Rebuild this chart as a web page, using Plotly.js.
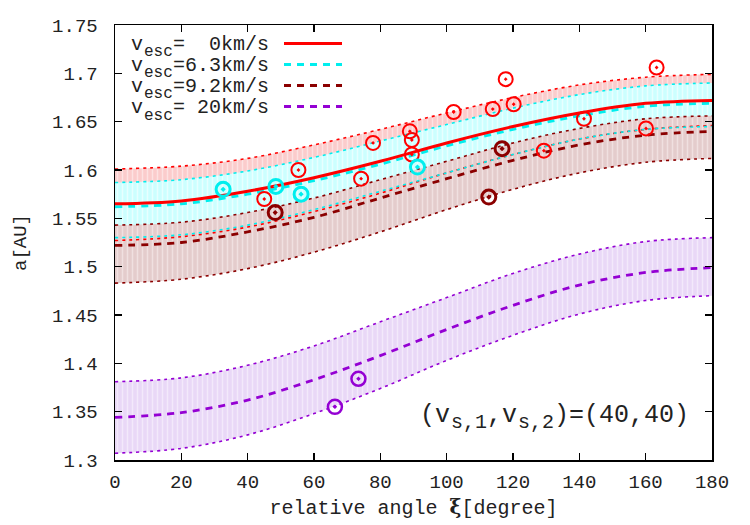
<!DOCTYPE html>
<html>
<head>
<meta charset="utf-8">
<script src="https://cdn.plot.ly/plotly-3.0.1.min.js"></script>
<style>
  html, body { margin: 0; padding: 0; background: #fff; }
  #chart { width: 750px; height: 525px; }
</style>
</head>
<body>
<div id="chart"></div>
<script>
// Relative angle samples (degrees)
const xi = [0, 20, 40, 60, 80, 100, 120, 140, 160, 180];

// v_esc = 0 km/s : centre curve and band edges (AU)
const redMid = [1.565, 1.568, 1.578, 1.592, 1.609, 1.628, 1.645, 1.659, 1.669, 1.672];
const redHi  = [1.601, 1.604, 1.612, 1.626, 1.642, 1.659, 1.675, 1.688, 1.696, 1.699];
const redLo  = [1.527, 1.531, 1.541, 1.557, 1.576, 1.597, 1.616, 1.632, 1.642, 1.646];

// v_esc = 6.3 km/s
const cyanMid = [1.562, 1.565, 1.575, 1.589, 1.606, 1.625, 1.642, 1.656, 1.666, 1.669];
const cyanHi  = [1.587, 1.590, 1.599, 1.613, 1.630, 1.647, 1.664, 1.678, 1.687, 1.690];
const cyanLo  = [1.530, 1.533, 1.543, 1.559, 1.578, 1.597, 1.616, 1.632, 1.642, 1.645];

// v_esc = 9.2 km/s
const dredMid = [1.522, 1.525, 1.536, 1.551, 1.571, 1.591, 1.610, 1.626, 1.636, 1.640];
const dredHi  = [1.543, 1.546, 1.556, 1.571, 1.590, 1.609, 1.628, 1.643, 1.653, 1.656];
const dredLo  = [1.483, 1.487, 1.498, 1.515, 1.536, 1.559, 1.580, 1.597, 1.608, 1.612];

// v_esc = 20 km/s
const purpMid = [1.344, 1.349, 1.362, 1.383, 1.408, 1.435, 1.460, 1.481, 1.494, 1.499];
const purpHi  = [1.381, 1.385, 1.398, 1.418, 1.443, 1.468, 1.493, 1.513, 1.526, 1.530];
const purpLo  = [1.307, 1.312, 1.326, 1.348, 1.374, 1.403, 1.429, 1.451, 1.465, 1.470];

// Observed objects for each escape velocity
const redPtX  = [45.0, 55.3, 74.2, 77.8, 88.9, 89.5, 89.5, 102.1, 113.9, 117.8, 120.2, 129.3, 141.4, 160.1, 163.3];
const redPtY  = [1.570, 1.600, 1.591, 1.628, 1.640, 1.631, 1.616, 1.660, 1.663, 1.694, 1.668, 1.620, 1.653, 1.643, 1.706];
const cyanPtX = [32.6, 48.5, 56.1, 91.2];
const cyanPtY = [1.580, 1.583, 1.575, 1.603];
const dredPtX = [48.3, 112.7, 116.7];
const dredPtY = [1.556, 1.572, 1.622];
const purpPtX = [66.3, 73.4];
const purpPtY = [1.355, 1.384];

// Key labels and tick labels
const vescLabels = ['=\u00a0\u00a00km/s', '=6.3km/s', '=9.2km/s', '=\u00a020km/s'];
const xTickVals = [0, 20, 40, 60, 80, 100, 120, 140, 160, 180];
const xTickText = ['0', '20', '40', '60', '80', '100', '120', '140', '160', '180'];
const yTickVals = [1.3, 1.35, 1.4, 1.45, 1.5, 1.55, 1.6, 1.65, 1.7, 1.75];
const yTickText = ['1.3', '1.35', '1.4', '1.45', '1.5', '1.55', '1.6', '1.65', '1.7', '1.75'];

const FONT = "'Liberation Mono', 'DejaVu Sans Mono', monospace";
const TXT = '#222';

const series = [
  { mid: redMid,  hi: redHi,  lo: redLo,  line: '#ff0000', fill: 'rgb(251,204,204)', stripe: 'rgb(253,226,226)', dash: 'solid',   px: redPtX,  py: redPtY,  mw: 2 },
  { mid: cyanMid, hi: cyanHi, lo: cyanLo, line: '#00eeee', fill: 'rgb(204,255,255)', stripe: 'rgb(232,255,255)', dash: '7px,6px', px: cyanPtX, py: cyanPtY, mw: 3 },
  { mid: dredMid, hi: dredHi, lo: dredLo, line: '#8b0000', fill: 'rgb(228,204,204)', stripe: 'rgb(240,224,224)', dash: '7px,6px', px: dredPtX, py: dredPtY, mw: 3 },
  { mid: purpMid, hi: purpHi, lo: purpLo, line: '#9400d3', fill: 'rgb(233,216,247)', stripe: 'rgb(243,233,251)', dash: '7px,6px', px: purpPtX, py: purpPtY, mw: 2.5 }
];

const traces = [];

// Shaded bands (drawn first so every line sits on top)
series.forEach(s => {
  traces.push({
    x: xi, y: s.lo, mode: 'lines', line: { width: 0, shape: 'spline' },
    hoverinfo: 'skip', showlegend: false
  });
  traces.push({
    x: xi, y: s.hi, mode: 'lines', line: { width: 0, shape: 'spline' },
    fill: 'tonexty', fillcolor: s.fill,
    fillpattern: { shape: '|', bgcolor: s.fill, fgcolor: s.stripe, size: 5, solidity: 0.3 },
    hoverinfo: 'skip', showlegend: false
  });
});

// Dotted band edges
series.forEach(s => {
  [s.hi, s.lo].forEach(edge => {
    traces.push({
      x: xi, y: edge, mode: 'lines',
      line: { color: s.line, width: 1.6, dash: '3px,4px', shape: 'spline' },
      hoverinfo: 'skip', showlegend: false
    });
  });
});

// Central curves (drawn back to front so the solid red one is on top)
series.slice().reverse().forEach(s => {
  traces.push({
    x: xi, y: s.mid, mode: 'lines',
    line: { color: s.line, width: s.dash === 'solid' ? 3 : 2.8, dash: s.dash, shape: 'spline' },
    hoverinfo: 'skip', showlegend: false
  });
});

// Observed objects
series.forEach(s => {
  traces.push({
    x: s.px, y: s.py, mode: 'markers',
    marker: { symbol: 'circle-open-dot', size: 14, color: s.line, line: { color: s.line, width: s.mw } },
    showlegend: false
  });
});

// Pixel helpers for placing the key and the label inside the frame
const plotTop = 25, plotBottom = 460, plotLeft = 115, plotRight = 712;
const py = p => (plotBottom - p) / (plotBottom - plotTop);
const pxx = p => (p - plotLeft) / (plotRight - plotLeft);

const annotations = [];
const shapes = [];

// A text piece whose glyphs start at pixel column `left` and whose box is centred on row `mid`
function piece(text, left, mid, size, boxHeight) {
  const a = {
    xref: 'paper', yref: 'paper', x: pxx(left), y: py(mid),
    xanchor: 'left', yanchor: 'middle', showarrow: false,
    borderpad: 0, borderwidth: 0,
    font: { family: FONT, size: size, color: TXT }, text: text
  };
  if (boxHeight) a.height = boxHeight;
  annotations.push(a);
}

// Hand-built key: "v_esc=..." followed by a line sample
const keyRowsPx = [43.5, 64.5, 85.5, 106.5];
series.forEach((s, i) => {
  const r = keyRowsPx[i];
  piece('v', 131, r, 20, 20);
  piece('esc', 143.5, r + 9, 16, 16);
  piece(vescLabels[i], 173, r, 20, 20);
  shapes.push({
    type: 'line', xref: 'paper', yref: 'paper',
    x0: pxx(284), x1: pxx(342), y0: py(r), y1: py(r),
    line: { color: s.line, width: 3, dash: s.dash }
  });
});

// Impact-speed label (v_s,1 , v_s,2) = (40,40)
piece('(v', 420, 415, 25);
piece('s,1', 450.5, 422, 20);
piece(',v', 487, 415, 25);
piece('s,2', 517.5, 422, 20);
piece(')=(40,40)', 554, 415, 25);

const axisCommon = {
  showline: true, mirror: 'ticks', linecolor: '#000', linewidth: 1.5,
  ticks: 'inside', ticklen: 7, tickwidth: 1.2, tickcolor: '#000',
  showgrid: false, zeroline: false,
  tickfont: { family: FONT, size: 19, color: TXT }
};

const layout = {
  width: 750, height: 525,
  margin: { l: 115, r: 38, t: 25, b: 65 },
  paper_bgcolor: '#fff', plot_bgcolor: '#fff',
  showlegend: false,
  xaxis: Object.assign({}, axisCommon, {
    range: [0, 180], tickmode: 'array', tickvals: xTickVals, ticktext: xTickText,
    ticklabelstandoff: 4,
    title: { text: 'relative angle <span style="font-family:\'DejaVu Serif\';font-weight:bold">ξ</span>[degree]',
             font: { family: FONT, size: 20, color: TXT }, standoff: 6 }
  }),
  yaxis: Object.assign({}, axisCommon, {
    range: [1.3, 1.75], tickmode: 'array', tickvals: yTickVals, ticktext: yTickText,
    ticklabelstandoff: 12,
    title: { text: 'a[AU]', font: { family: FONT, size: 19, color: TXT }, standoff: 20 }
  }),
  annotations: annotations,
  shapes: shapes
};

Plotly.newPlot('chart', traces, layout, { staticPlot: true, displayModeBar: false });
</script>
</body>
</html>
